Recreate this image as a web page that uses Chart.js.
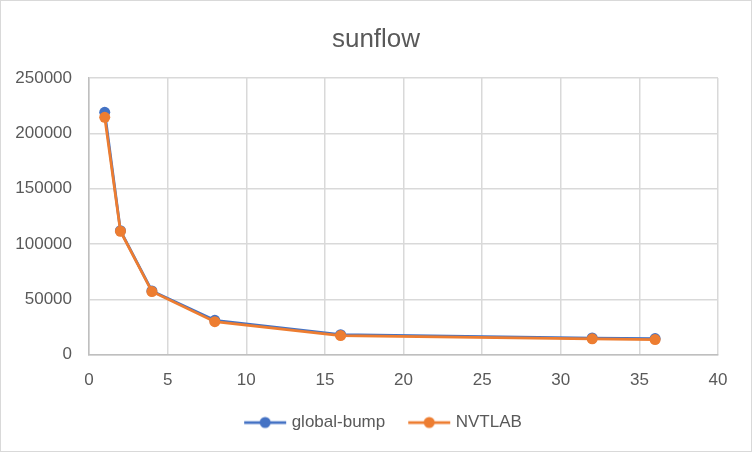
<!DOCTYPE html>
<html>
<head>
  <meta charset="UTF-8" />
  <title>sunflow</title>
  <script src="https://cdn.jsdelivr.net/npm/chart.js"></script>
  <style>
    body { margin: 0; background: #fff; }
    .box { width: 750px; height: 450px; border: 1px solid #d9d9d9; position: relative; }
  </style>
</head>
<body>
  <div class="box">
    <canvas id="myChart" width="750" height="450"></canvas>
  </div>

  <script>
    // 数据
    const xValues = [1, 2, 4, 8, 16, 32, 36];
    const globalBump = [219000, 112000, 57500, 31000, 18000, 15000, 14500];
    const nvtlab = [214500, 111500, 57000, 29800, 17200, 14300, 13600];
    const xTicks = [0, 5, 10, 15, 20, 25, 30, 35, 40];
    const yTicks = [0, 50000, 100000, 150000, 200000, 250000];

    const BLUE = '#4472C4';
    const ORANGE = '#ED7D31';
    const TEXT = '#595959';

    function toPoints(ys) {
      return xValues.map((x, i) => ({ x: x, y: ys[i] }));
    }

    // 图例用的 线+圆点 图标（左边留空，拉开两项的间距）
    function legendIcon(color) {
      const c = document.createElement('canvas');
      c.width = 60; c.height = 14;
      const g = c.getContext('2d');
      g.strokeStyle = color;
      g.lineWidth = 2.75;
      g.beginPath(); g.moveTo(17, 7); g.lineTo(59, 7); g.stroke();
      g.fillStyle = color;
      g.beginPath(); g.arc(38, 7, 5.5, 0, Math.PI * 2); g.fill();
      return c;
    }

    // 标题、图例按整张图居中（和 Excel 一样）
    const recenter = {
      id: 'recenter',
      afterLayout(chart) {
        chart.titleBlock.left += 16.5;
        chart.titleBlock.right += 16.5;
        chart.legend.left += 17;
        chart.legend.right += 17;
      }
    };

    const ctx = document.getElementById('myChart').getContext('2d');
    const chart = new Chart(ctx, {
      type: 'scatter',
      data: {
        datasets: [
          {
            label: 'global-bump',
            data: toPoints(globalBump),
            borderColor: BLUE,
            backgroundColor: BLUE,
            showLine: true,
            borderWidth: 2.75,
            pointRadius: 5.5,
            pointBorderWidth: 0,
            order: 1,
            legendIcon: legendIcon(BLUE)
          },
          {
            label: 'NVTLAB',
            data: toPoints(nvtlab),
            borderColor: ORANGE,
            backgroundColor: ORANGE,
            showLine: true,
            borderWidth: 2.75,
            pointRadius: 5.5,
            pointBorderWidth: 0,
            order: 0,
            legendIcon: legendIcon(ORANGE)
          }
        ]
      },
      options: {
        responsive: false,
        animation: false,
        layout: { padding: { left: 0, right: 33, top: 0, bottom: 10 } },
        plugins: {
          title: {
            display: true,
            text: 'sunflow',
            color: TEXT,
            font: { family: 'Liberation Sans', size: 26, weight: 'normal' },
            padding: { top: 23.5, bottom: 22.3 }
          },
          legend: {
            position: 'bottom',
            labels: {
              color: TEXT,
              font: { family: 'Liberation Sans', size: 17 },
              usePointStyle: true,
              pointStyleWidth: 52,
              boxHeight: 14,
              padding: 10,
              generateLabels: (chart) => chart.data.datasets.map((ds, i) => ({
                text: ds.label,
                fillStyle: ds.backgroundColor,
                strokeStyle: ds.borderColor,
                lineWidth: 0,
                pointStyle: ds.legendIcon,
                fontColor: TEXT,
                datasetIndex: i,
                hidden: false
              }))
            }
          },
          tooltip: { enabled: false }
        },
        scales: {
          x: {
            type: 'linear',
            min: 0,
            max: 40,
            afterBuildTicks: (axis) => { axis.ticks = xTicks.map(v => ({ value: v })); },
            afterFit: (axis) => { axis.height -= 3; },
            ticks: {
              color: TEXT,
              font: { family: 'Liberation Sans', size: 17 },
              padding: 16,
              callback: (v) => String(v)
            },
            grid: { color: '#d9d9d9', lineWidth: 1.5, drawTicks: false },
            border: { color: '#bfbfbf', width: 1.5 }
          },
          y: {
            type: 'linear',
            min: 0,
            max: 250000,
            afterBuildTicks: (axis) => { axis.ticks = yTicks.map(v => ({ value: v })); },
            afterFit: (axis) => { axis.width = 88; },
            ticks: {
              color: TEXT,
              font: { family: 'Liberation Sans', size: 17 },
              padding: 17,
              callback: (v) => String(v)
            },
            grid: { color: '#d9d9d9', lineWidth: 1.5, drawTicks: false },
            border: { color: '#bfbfbf', width: 1.5 }
          }
        }
      },
      plugins: [recenter]
    });
  </script>
</body>
</html>
